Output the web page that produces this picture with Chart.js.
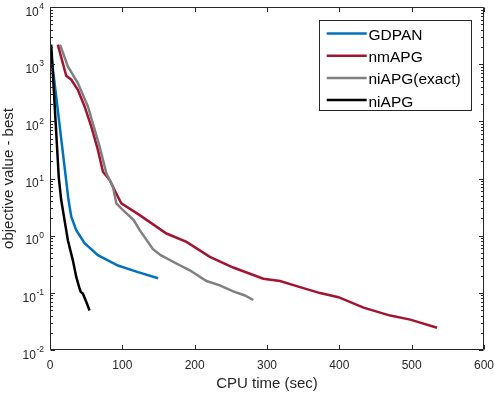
<!DOCTYPE html>
<html>
<head>
<meta charset="utf-8">
<script src="https://cdn.jsdelivr.net/npm/chart.js@4.4.1/dist/chart.umd.min.js"></script>
<style>
html,body{margin:0;padding:0;background:#fff;}
canvas{display:block;}
</style>
</head>
<body>
<canvas id="c" width="495" height="394"></canvas>
<script>
// ---- data ----
const seriesNames = ["GDPAN", "nmAPG", "niAPG(exact)", "niAPG"];
const seriesColors = ["#0072BD", "#A2142F", "#808080", "#000000"];

const gdpanX = [0, 25.6, 29.4, 36.3, 47.8, 66.2, 93.9, 121.7, 149.4];
const gdpanY = [2200, 4.2, 2.14, 1.25, 0.74, 0.455, 0.30, 0.23, 0.18];

const nmapgX = [10.8, 22.4, 29.4, 38.5, 47.8, 57.1, 66.2, 73.2, 82.4, 93.9, 98.6, 124, 161, 188.7, 221, 253.3, 294.9, 318, 345.7, 373.4, 398.8, 433.4, 470.4, 498.1, 535.1];
const nmapgY = [2200, 628, 535, 357, 182, 81, 31.6, 13.1, 9.4, 4.8, 3.67, 2.29, 1.09, 0.78, 0.425, 0.277, 0.177, 0.161, 0.126, 0.099, 0.084, 0.055, 0.040, 0.034, 0.0245];

const exactX = [13.9, 24.7, 38.5, 52.4, 68.6, 77.9, 87, 91.7, 100.9, 115.7, 124, 142.4, 153, 176.7, 193.3, 216.4, 234.8, 253.3, 269.5, 281];
const exactY = [2200, 915, 468, 182, 36, 12.3, 7.2, 3.67, 2.8, 1.87, 1.25, 0.58, 0.455, 0.316, 0.248, 0.161, 0.135, 0.106, 0.090, 0.075];

const niapgX = [1.7, 8.6, 12.2, 15.5, 20.1, 24.7, 31.6, 36.3, 40.9, 42.5, 45.4, 50.2, 54.7];
const niapgY = [2200, 63, 10.2, 4.2, 1.87, 0.83, 0.37, 0.19, 0.119, 0.104, 0.097, 0.069, 0.049];

const xTicks = [0, 100, 200, 300, 400, 500, 600];
const yTickExponents = [-2, -1, 0, 1, 2, 3, 4];
const xTitle = "CPU time (sec)";
const yTitle = "objective value - best";

// ---- build ----
const seriesX = [gdpanX, nmapgX, exactX, niapgX];
const seriesY = [gdpanY, nmapgY, exactY, niapgY];
const toPts = (xs, ys) => xs.map((x, i) => ({x: x, y: ys[i]}));

const datasets = seriesNames.map((name, i) => ({
  label: name,
  data: toPts(seriesX[i], seriesY[i]),
  borderColor: seriesColors[i],
  backgroundColor: seriesColors[i],
  borderWidth: 2.5,
  pointRadius: 0,
  showLine: true,
  tension: 0,
  order: 4 - i
}));

const AX = "#262626";
const FONT = "'Liberation Sans', Arial, Helvetica, sans-serif";

const axesPlugin = {
  id: 'matlabAxes',
  afterDatasetsDraw(chart) {
    const ctx = chart.ctx;
    const a = chart.chartArea;
    const xs = chart.scales.x, ys = chart.scales.y;
    const L = a.left + 0.5, R = a.right - 0.5, T = a.top + 0.5, B = a.bottom - 0.5;
    ctx.save();
    ctx.strokeStyle = AX;
    ctx.lineWidth = 1;
    ctx.beginPath();
    ctx.rect(L, T, R - L, B - T);
    ctx.stroke();
    // x ticks
    ctx.beginPath();
    xTicks.forEach(v => {
      const px = Math.round(xs.getPixelForValue(v)) + 0.5;
      ctx.moveTo(px, B); ctx.lineTo(px, B - 4.5);
      ctx.moveTo(px, T); ctx.lineTo(px, T + 4.5);
    });
    // y ticks (major + minor)
    yTickExponents.forEach(e => {
      const py = Math.round(ys.getPixelForValue(Math.pow(10, e))) + 0.5;
      ctx.moveTo(L, py); ctx.lineTo(L + 4.5, py);
      ctx.moveTo(R, py); ctx.lineTo(R - 4.5, py);
      if (e < yTickExponents[yTickExponents.length - 1]) {
        for (let m = 2; m <= 9; m++) {
          const pm = Math.round(ys.getPixelForValue(m * Math.pow(10, e))) + 0.5;
          ctx.moveTo(L, pm); ctx.lineTo(L + 2.5, pm);
          ctx.moveTo(R, pm); ctx.lineTo(R - 2.5, pm);
        }
      }
    });
    ctx.stroke();
    // x tick labels
    ctx.fillStyle = AX;
    ctx.font = "12px " + FONT;
    ctx.textAlign = 'center';
    ctx.textBaseline = 'alphabetic';
    xTicks.forEach(v => {
      ctx.fillText(String(v), xs.getPixelForValue(v), 368.5);
    });
    // y tick labels: 10^e
    const rightEdge = a.left - 6;
    yTickExponents.forEach(e => {
      const py = ys.getPixelForValue(Math.pow(10, e));
      const es = e < 0 ? '-' + Math.abs(e) : String(e);
      ctx.font = "8.5px " + FONT;
      ctx.textAlign = 'right';
      const ew = ctx.measureText(es).width;
      ctx.fillText(es, rightEdge, py + 2.2);
      ctx.font = "12px " + FONT;
      ctx.fillText("10", rightEdge - ew - 0.5, py + 8.8);
    });
    // axis titles
    ctx.font = "15px " + FONT;
    ctx.textAlign = 'center';
    ctx.fillText(xTitle, (a.left + a.right) / 2, 387.5);
    ctx.save();
    ctx.translate(12.5, (a.top + a.bottom) / 2);
    ctx.rotate(-Math.PI / 2);
    ctx.fillText(yTitle, 0, 0);
    ctx.restore();
    // legend
    const bx = 319.5, by = 20.5, bw = 152, bh = 90;
    ctx.fillStyle = '#ffffff';
    ctx.fillRect(bx, by, bw, bh);
    ctx.strokeStyle = AX;
    ctx.lineWidth = 1;
    ctx.strokeRect(bx, by, bw, bh);
    ctx.font = "15.5px " + FONT;
    ctx.textAlign = 'left';
    chart.data.datasets.forEach((ds, i) => {
      const base = 40 + i * 22.2;
      const ly = base - 6.5;
      ctx.strokeStyle = ds.borderColor;
      ctx.lineWidth = 2.5;
      ctx.beginPath();
      ctx.moveTo(326.7, ly); ctx.lineTo(366.7, ly);
      ctx.stroke();
      ctx.fillStyle = '#000000';
      ctx.fillText(ds.label, 368.5, base);
    });
    ctx.restore();
  }
};

new Chart(document.getElementById('c'), {
  type: 'scatter',
  data: { datasets: datasets },
  options: {
    responsive: false,
    animation: false,
    devicePixelRatio: 1,
    layout: { padding: { left: 50, top: 7, right: 11, bottom: 44 } },
    plugins: { legend: { display: false }, tooltip: { enabled: false } },
    scales: {
      x: { type: 'linear', min: 0, max: 600, display: false },
      y: { type: 'logarithmic', min: 0.01, max: 10000, display: false }
    }
  },
  plugins: [axesPlugin]
});
</script>
</body>
</html>
